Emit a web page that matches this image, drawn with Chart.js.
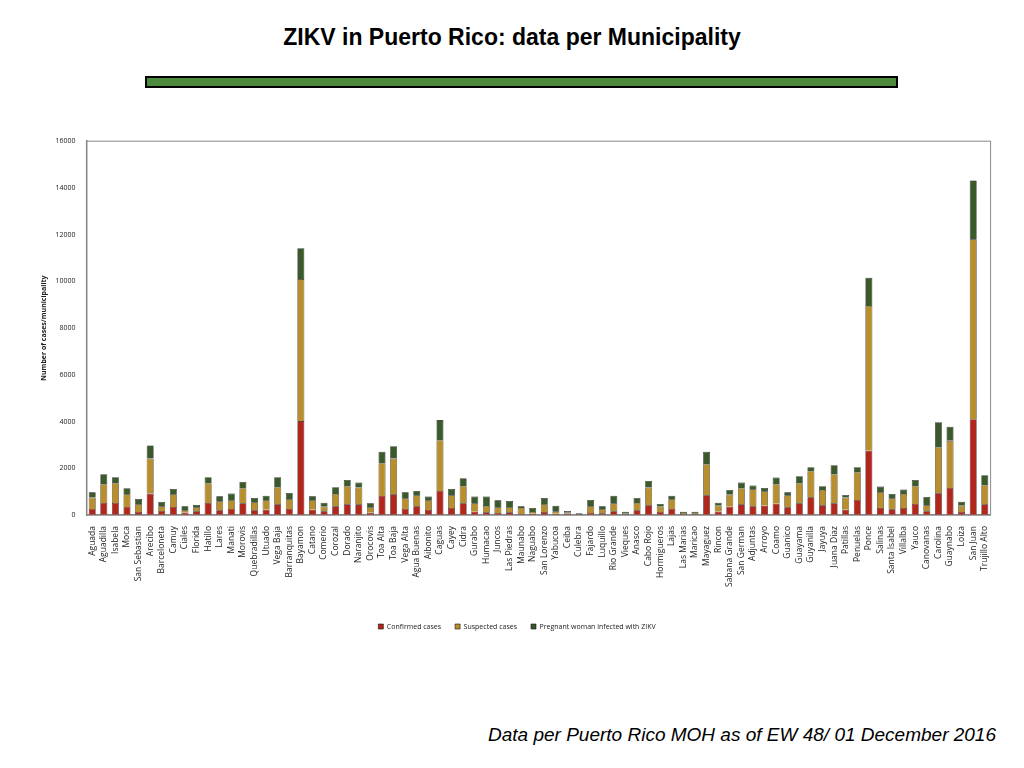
<!DOCTYPE html>
<html>
<head>
<meta charset="utf-8">
<script src="https://cdn.jsdelivr.net/npm/chart.js@4"></script>
<style>
  body { margin: 0; width: 1024px; height: 768px; background: #fff; font-family: "Liberation Sans", Arial, sans-serif; position: relative; overflow: hidden; }
  h1 { position: absolute; top: 24px; left: 0; width: 1024px; text-align: center; margin: 0; font-size: 23px; font-weight: bold; }
  #rule { position: absolute; left: 145px; top: 76px; width: 749px; height: 8px; background: #4e8a3e; border: 2px solid #000; }
  #wrap { position: absolute; left: 36px; top: 134px; width: 962px; height: 506px; }
  #foot { position: absolute; right: 28px; top: 724px; font-style: italic; font-size: 19px; }
</style>
</head>
<body>
<h1>ZIKV in Puerto Rico: data per Municipality</h1>
<div id="rule"></div>
<div id="wrap"><canvas id="chart"></canvas></div>
<div id="foot">Data per Puerto Rico MOH as of EW 48/ 01 December 2016</div>
<script>
// municipality, confirmed (cumulative top), confirmed+suspected, total incl. pregnant
const rows = [
    ['Aguada', 257, 744, 972], ['Aguadilla', 515, 1316, 1745], ['Isabela', 515, 1358, 1616],
    ['Moca', 343, 887, 1144], ['San Sebastian', 129, 458, 686], ['Arecibo', 915, 2417, 2974],
    ['Barceloneta', 172, 372, 558], ['Camuy', 343, 887, 1115], ['Ciales', 100, 200, 372],
    ['Florida', 157, 329, 429], ['Hatillo', 515, 1358, 1616], ['Lares', 200, 586, 801],
    ['Manati', 257, 629, 915], ['Morovis', 500, 1144, 1416], ['Quebradillas', 200, 543, 729],
    ['Utuado', 229, 629, 829], ['Vega Baja', 458, 1187, 1616], ['Barranquitas', 257, 672, 944],
    ['Bayamon', 4020, 10100, 11420], ['Catano', 229, 629, 801], ['Comerio', 157, 358, 529],
    ['Corozal', 372, 901, 1187], ['Dorado', 458, 1230, 1502], ['Naranjito', 458, 1173, 1387],
    ['Orocovis', 100, 329, 500], ['Toa Alta', 815, 2217, 2703], ['Toa Baja', 887, 2417, 2946],
    ['Vega Alta', 257, 715, 972], ['Agua Buenas', 372, 844, 1030], ['Aibonito', 215, 629, 787],
    ['Caguas', 1030, 3203, 4061], ['Cayey', 300, 844, 1115], ['Cidra', 500, 1230, 1573],
    ['Gurabo', 143, 500, 787], ['Humacao', 114, 386, 787], ['Juncos', 86, 329, 629],
    ['Las Piedras', 114, 329, 601], ['Maunabo', 29, 300, 372], ['Naguabo', 57, 129, 300],
    ['San Lorenzo', 129, 458, 729], ['Yabucoa', 57, 157, 400], ['Ceiba', 57, 100, 172],
    ['Culebra', 29, 43, 72], ['Fajardo', 86, 372, 644], ['Luquillo', 72, 243, 372],
    ['Rio Grande', 157, 500, 829], ['Vieques', 29, 72, 143], ['Anasco', 200, 515, 729],
    ['Cabo Rojo', 415, 1173, 1459], ['Hormigueros', 129, 358, 472], ['Lajas', 257, 672, 829],
    ['Las Marias', 29, 86, 143], ['Maricao', 29, 86, 143], ['Mayaguez', 844, 2174, 2703],
    ['Rincon', 143, 400, 529], ['Sabana Grande', 358, 872, 1073], ['San German', 458, 1144, 1387],
    ['Adjuntas', 372, 1101, 1258], ['Arroyo', 400, 1015, 1158], ['Coamo', 486, 1316, 1602],
    ['Guanico', 329, 844, 972], ['Guayama', 500, 1358, 1659], ['Guyanilla', 758, 1873, 2045],
    ['Jayuya', 415, 1073, 1230], ['Juana Diaz', 500, 1745, 2131], ['Patillas', 229, 744, 858],
    ['Penuelas', 644, 1830, 2045], ['Ponce', 2750, 8950, 10150], ['Salinas', 300, 972, 1216],
    ['Santa Isabel', 243, 715, 901], ['Villalba', 300, 901, 1087], ['Yauco', 472, 1230, 1502],
    ['Canovanas', 157, 415, 772], ['Carolina', 929, 2903, 3975], ['Guaynabo', 1158, 3175, 3775],
    ['Loiza', 129, 400, 572], ['San Juan', 4100, 11800, 14320], ['Trujillo Alto', 458, 1273, 1702]
];

const labels = rows.map(r => r[0]);
const confirmed = rows.map(r => r[1]);
const suspected = rows.map(r => r[2] - r[1]);
const pregnant = rows.map(r => r[3] - r[2]);

function ds(label, data, color) {
    return { label, data, backgroundColor: color, borderColor: '#111', borderWidth: 0.6,
             barPercentage: 0.6, categoryPercentage: 1.0 };
}

new Chart(document.getElementById('chart').getContext('2d'), {
    type: 'bar',
    data: {
        labels: labels,
        datasets: [
            ds('Confirmed cases', confirmed, '#b3261b'),
            ds('Suspected cases', suspected, '#b98f2e'),
            ds('Pregnant woman infected with ZIKV', pregnant, '#3b5a2b')
        ]
    },
    options: {
        responsive: true,
        maintainAspectRatio: false,
        animation: false,
        plugins: {
            legend: {
                position: 'bottom',
                labels: { boxWidth: 5, boxHeight: 5, font: { size: 7, family: 'Open Sans' }, color: '#222', padding: 14 }
            },
            tooltip: { enabled: false }
        },
        scales: {
            x: {
                stacked: true,
                grid: { display: false },
                border: { color: '#888', width: 1.5 },
                afterFit: s => { s.height = 94; },
                ticks: { autoSkip: false, maxRotation: 90, minRotation: 90, font: { size: 8.5, family: 'Open Sans' }, color: '#222' }
            },
            y: {
                stacked: true,
                min: 0, max: 16000,
                ticks: { stepSize: 2000, font: { size: 7, family: 'Open Sans' }, color: '#222',
                         callback: v => String(v) },
                grid: { display: false },
                border: { color: '#888', width: 1.5 },
                title: { display: true, text: 'Number of cases/municipality', font: { size: 7, family: 'Open Sans', weight: 'bold' }, color: '#222' }
            }
        }
    },
    plugins: [{
        id: 'frame',
        afterDraw(c) {
            const a = c.chartArea, g = c.ctx;
            g.save(); g.strokeStyle = '#888'; g.lineWidth = 1;
            g.strokeRect(a.left, a.top, a.right - a.left, a.bottom - a.top);
            g.restore();
        }
    }]
});
</script>
</body>
</html>
